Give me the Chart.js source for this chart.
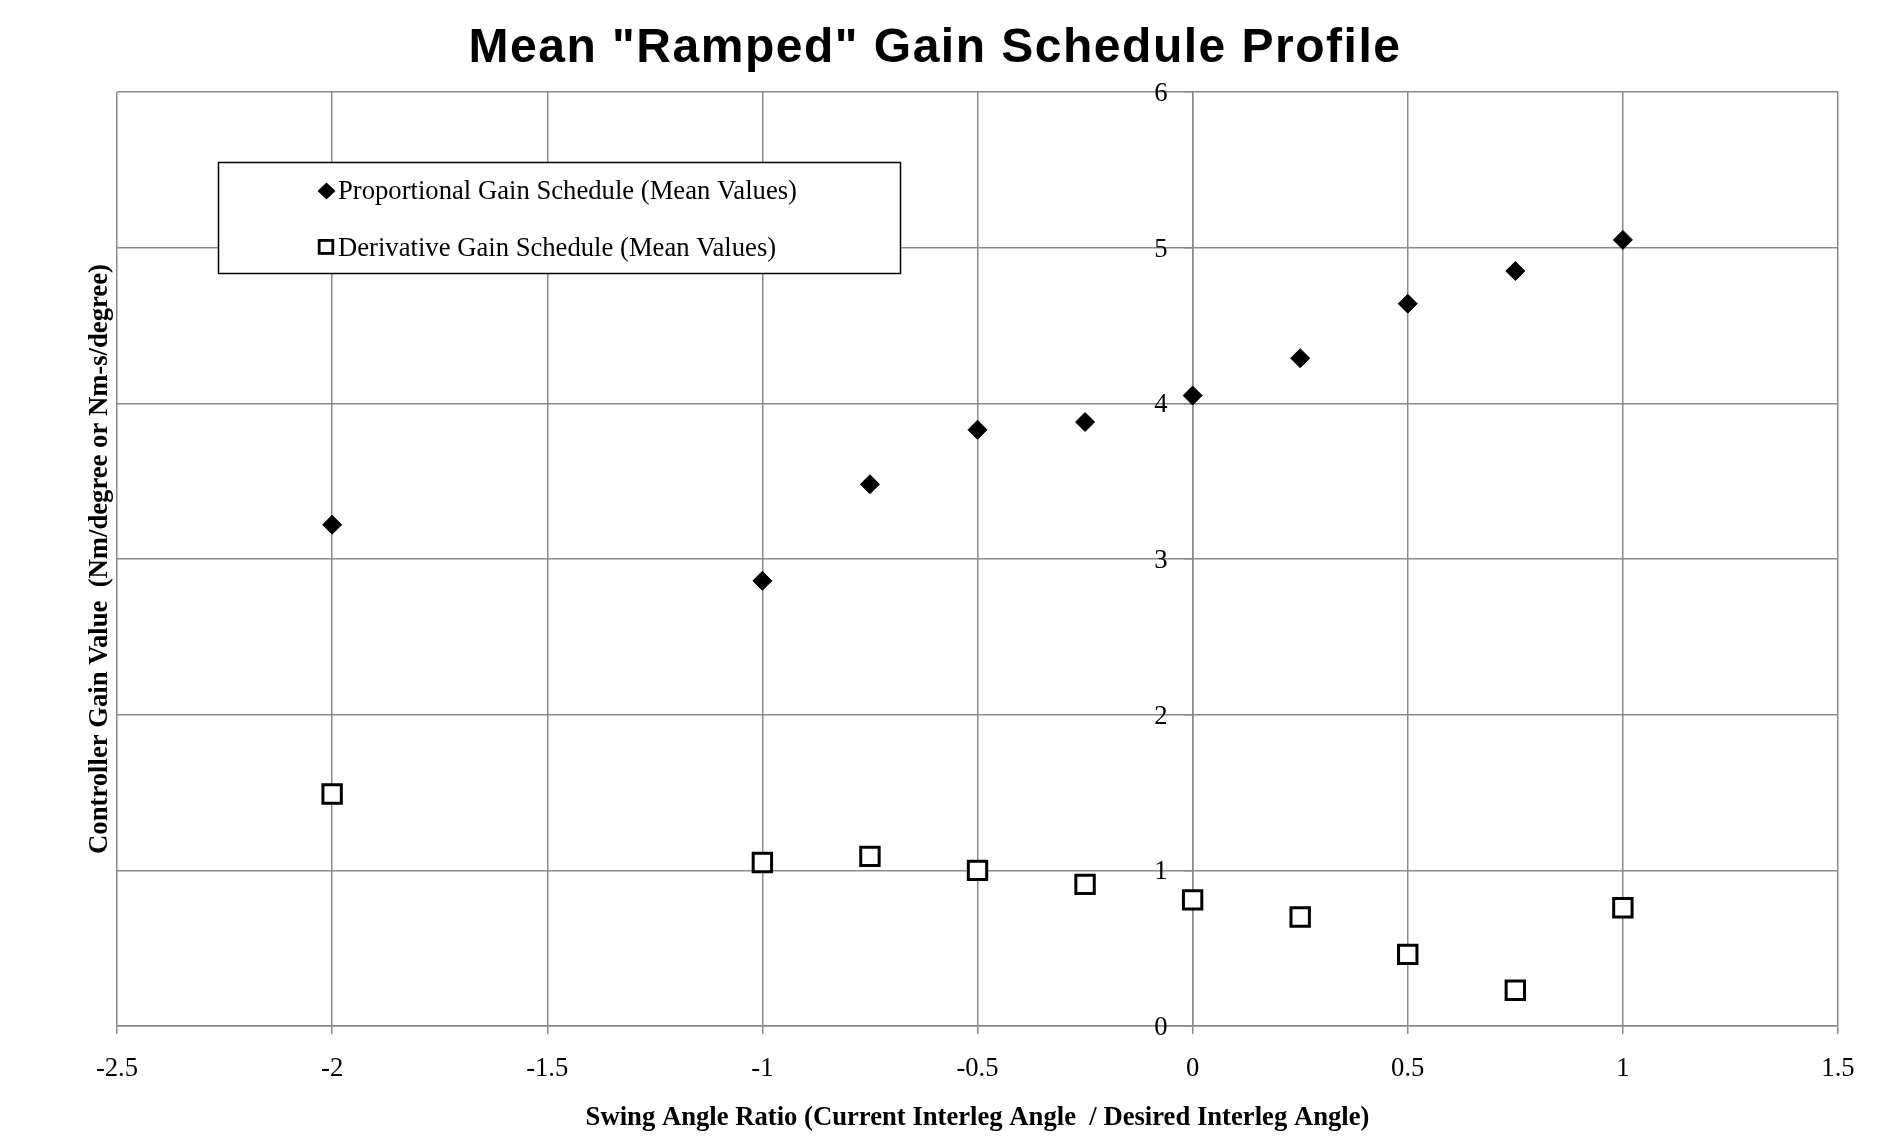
<!DOCTYPE html>
<html>
<head>
<meta charset="utf-8">
<title>Mean "Ramped" Gain Schedule Profile</title>
<script src="https://cdn.jsdelivr.net/npm/chart.js@4/dist/chart.umd.min.js"></script>
<style>
  html, body { margin: 0; padding: 0; background: #ffffff; }
  #wrap { width: 1904px; height: 1143px; }
</style>
</head>
<body>
<div id="wrap"><canvas id="gain" width="1904" height="1143"></canvas></div>
<script>
// Swing angle ratio at which each gain was scheduled
const ratio = [-2, -1, -0.75, -0.5, -0.25, 0, 0.25, 0.5, 0.75, 1];
// Mean proportional gain (Nm/degree)
const proportional = [3.22, 2.86, 3.48, 3.83, 3.88, 4.05, 4.29, 4.64, 4.85, 5.05];
// Mean derivative gain (Nm-s/degree)
const derivative = [1.49, 1.05, 1.09, 1.00, 0.91, 0.81, 0.70, 0.46, 0.23, 0.76];

const titleText = 'Mean "Ramped" Gain Schedule Profile';
const xTitle = 'Swing Angle Ratio (Current Interleg Angle  / Desired Interleg Angle)';
const yTitle = 'Controller Gain Value  (Nm/degree or Nm-s/degree)';
const seriesNames = ['Proportional Gain Schedule (Mean Values)', 'Derivative Gain Schedule (Mean Values)'];

const SERIF = '"Liberation Serif", "Times New Roman", serif';
const SANS = '"Liberation Sans", Arial, sans-serif';
const GRID = '#8a8a8a';
const FS = 26.67;

Chart.defaults.font.family = SERIF;
Chart.defaults.font.size = FS;
Chart.defaults.color = '#000000';

const toPoints = (xs, ys) => xs.map((x, i) => ({ x: x, y: ys[i] }));

// The y axis crosses at x = 0; keep its labels clear of the tick marks
const yLabelGap = {
  id: 'yLabelGap',
  beforeDraw(chart) {
    const scale = chart.scales.y;
    if (!scale || scale._gapApplied === scale._labelItems && scale._labelItems) return;
    const items = scale.getLabelItems(chart.chartArea);
    items.forEach((item) => {
      item.options.translation = [item.options.translation[0] - 25, item.options.translation[1] + 2];
    });
    scale._gapApplied = items;
  }
};

// Title, rotated y-axis caption and boxed legend drawn on top of the plot
const decorations = {
  id: 'decorations',
  afterDraw(chart) {
    const ctx = chart.ctx;
    const area = chart.chartArea;
    ctx.save();

    // main title
    ctx.font = 'bold 48px ' + SANS;
    ctx.fillStyle = '#000';
    ctx.textAlign = 'center';
    ctx.textBaseline = 'alphabetic';
    if ('letterSpacing' in ctx) ctx.letterSpacing = '1.5px';
    ctx.fillText(titleText, 935, 62);
    if ('letterSpacing' in ctx) ctx.letterSpacing = '0px';

    // y-axis caption
    ctx.save();
    ctx.translate(100, (area.top + area.bottom) / 2);
    ctx.rotate(-Math.PI / 2);
    ctx.font = 'bold ' + FS + 'px ' + SERIF;
    ctx.textAlign = 'center';
    ctx.textBaseline = 'middle';
    ctx.fillText(yTitle, 0, 0);
    ctx.restore();

    // legend box
    const bx = 218.5, by = 162.5, bw = 682, bh = 111;
    ctx.fillStyle = '#fff';
    ctx.fillRect(bx, by, bw, bh);
    ctx.strokeStyle = '#000';
    ctx.lineWidth = 1.5;
    ctx.strokeRect(bx, by, bw, bh);

    // legend entry 1: filled diamond
    ctx.fillStyle = '#000';
    ctx.beginPath();
    ctx.moveTo(326.5, 182.5);
    ctx.lineTo(335.5, 191);
    ctx.lineTo(326.5, 199.5);
    ctx.lineTo(317.5, 191);
    ctx.closePath();
    ctx.fill();

    // legend entry 2: open square
    ctx.lineWidth = 2.8;
    ctx.strokeRect(319.2, 240.4, 13.6, 13);

    ctx.font = FS + 'px ' + SERIF;
    ctx.fillStyle = '#000';
    ctx.textAlign = 'left';
    ctx.textBaseline = 'alphabetic';
    ctx.fillText(seriesNames[0], 338, 199);
    ctx.fillText(seriesNames[1], 338, 255.5);
    ctx.restore();
  }
};

new Chart(document.getElementById('gain'), {
  type: 'scatter',
  data: {
    datasets: [
      {
        label: seriesNames[0],
        data: toPoints(ratio, proportional),
        pointStyle: 'rectRot',
        pointRadius: 9.5,
        pointHoverRadius: 9.5,
        backgroundColor: '#000',
        borderColor: '#000',
        borderWidth: 1
      },
      {
        label: seriesNames[1],
        data: toPoints(ratio, derivative),
        pointStyle: 'rect',
        pointRadius: 13,
        pointHoverRadius: 13,
        backgroundColor: '#fff',
        borderColor: '#000',
        borderWidth: 3
      }
    ]
  },
  options: {
    responsive: false,
    animation: false,
    events: [],
    layout: { padding: { left: 117, right: 66, top: 92, bottom: 0 } },
    plugins: {
      legend: { display: false },
      title: { display: false },
      tooltip: { enabled: false }
    },
    scales: {
      x: {
        type: 'linear',
        position: 'bottom',
        min: -2.5,
        max: 1.5,
        ticks: { stepSize: 0.5, padding: 19, callback: (v) => String(v) },
        grid: { color: GRID, lineWidth: 1.5, tickLength: 8, tickColor: GRID },
        border: { color: GRID, width: 1.5 },
        title: {
          display: true,
          text: xTitle,
          font: { size: FS, weight: 'bold' },
          padding: { top: 0, bottom: 9 }
        },
        afterFit(scale) { scale.height = 117; }
      },
      y: {
        type: 'linear',
        position: { x: 0 },
        min: 0,
        max: 6,
        ticks: { stepSize: 1, callback: (v) => String(v) },
        grid: { color: GRID, lineWidth: 1.5, tickLength: 8, tickColor: GRID },
        border: { color: GRID, width: 1.5 },
        afterFit(scale) { scale.width = 0; }
      }
    }
  },
  plugins: [yLabelGap, decorations]
});
</script>
</body>
</html>
